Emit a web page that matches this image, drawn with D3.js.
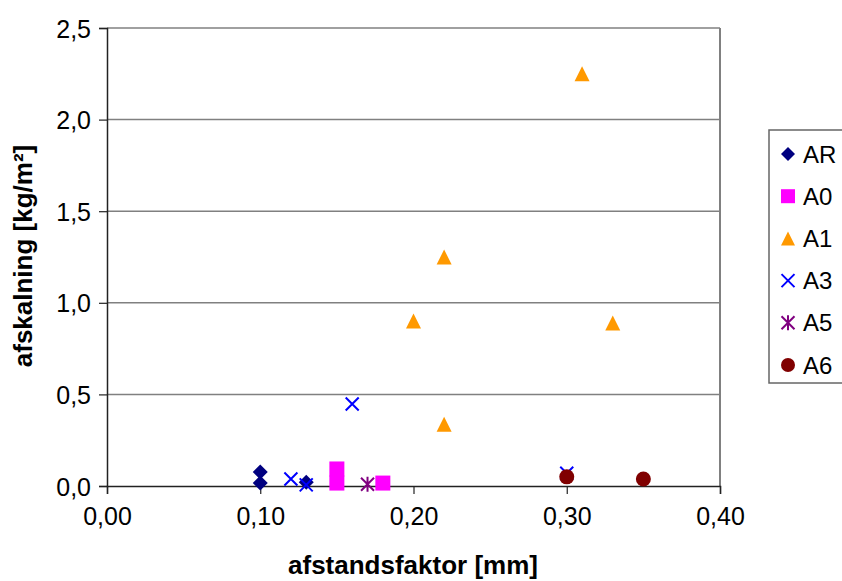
<!DOCTYPE html>
<html lang="da">

<head>
    <meta charset="UTF-8">
    <title>afskalning</title>
    <script src="https://d3js.org/d3.v7.min.js"></script>
    <style>
        body { margin: 0; background: #fff; }
        text { font-family: "Liberation Sans", Arial, sans-serif; }
    </style>
</head>

<body>

    <script>
        // data
        var seriesNames = ["AR", "A0", "A1", "A3", "A5", "A6"];
        var seriesColors = ["#000080", "#ff00ff", "#ff9900", "#0000ff", "#800080", "#800000"];
        var seriesShapes = ["diamond", "square", "triangle", "x", "star", "circle"];

        var arPoints = [[0.10, 0.076], [0.10, 0.016], [0.13, 0.02]];
        var a0Points = [[0.15, 0.093], [0.15, 0.016], [0.18, 0.016]];
        var a1Points = [[0.31, 2.25], [0.22, 1.25], [0.20, 0.90], [0.33, 0.89], [0.22, 0.337]];
        var a3Points = [[0.12, 0.038], [0.13, 0.006], [0.16, 0.448], [0.30, 0.07]];
        var a5Points = [[0.17, 0.01]];
        var a6Points = [[0.30, 0.05], [0.35, 0.038]];

        var xTicks = [0, 0.1, 0.2, 0.3, 0.4];
        var yTicks = [0, 0.5, 1.0, 1.5, 2.0, 2.5];

        var allPoints = [arPoints, a0Points, a1Points, a3Points, a5Points, a6Points];

        var width = 842;
        var height = 581;
        var plotL = 107, plotR = 720, plotT = 28, plotB = 486;

        var svg = d3.select("body")
            .append("svg")
            .attr("width", width)
            .attr("height", height);

        var x = d3.scaleLinear().domain([0, 0.4]).range([plotL, plotR]);
        var y = d3.scaleLinear().domain([0, 2.5]).range([plotB, plotT]);

        var fmt = function (d, n) { return d.toFixed(n).replace(".", ","); };

        // gridlines
        svg.append("g")
            .selectAll("line")
            .data(yTicks.slice(1))
            .enter()
            .append("line")
            .attr("x1", plotL).attr("x2", plotR)
            .attr("y1", function (d) { return y(d); })
            .attr("y2", function (d) { return y(d); })
            .attr("stroke", "#808080")
            .attr("stroke-width", 1.5);

        // right border
        svg.append("line")
            .attr("x1", plotR).attr("x2", plotR)
            .attr("y1", plotT).attr("y2", plotB)
            .attr("stroke", "#808080")
            .attr("stroke-width", 2);

        // y axis
        var yAxis = svg.append("g")
            .attr("transform", "translate(" + plotL + ",0)")
            .call(d3.axisLeft(y).tickValues(yTicks).tickSize(8).tickPadding(8)
                .tickFormat(function (d) { return fmt(d, 1); }));

        // x axis
        var xAxis = svg.append("g")
            .attr("transform", "translate(0," + plotB + ")")
            .call(d3.axisBottom(x).tickValues(xTicks).tickSize(8).tickPadding(8)
                .tickFormat(function (d) { return fmt(d, 2); }));

        [yAxis, xAxis].forEach(function (ax) {
            ax.select(".domain").attr("stroke", "#222").attr("stroke-width", 1.5);
            ax.selectAll(".tick line").attr("stroke", "#222").attr("stroke-width", 1.2);
            ax.selectAll("text")
                .attr("fill", "#000")
                .style("font-size", "25px")
                .style("font-family", "'Liberation Sans', Arial, sans-serif");
        });
        xAxis.selectAll("text").attr("dy", "0.9em");
        yAxis.selectAll("text").attr("dy", "0.36em");

        // axis titles
        svg.append("text")
            .attr("x", 413)
            .attr("y", 574)
            .attr("text-anchor", "middle")
            .style("font-size", "26px")
            .style("font-weight", "bold")
            .text("afstandsfaktor [mm]");

        svg.append("text")
            .attr("transform", "translate(32," + 256 + ") rotate(-90)")
            .attr("text-anchor", "middle")
            .style("font-size", "26px")
            .style("font-weight", "bold")
            .text("afskalning [kg/m²]");

        // marker paths
        function marker(shape, s) {
            var h = s / 2;
            if (shape === "diamond") return "M0," + (-h) + "L" + h + ",0L0," + h + "L" + (-h) + ",0Z";
            if (shape === "square") return "M" + (-h) + "," + (-h) + "h" + s + "v" + s + "h" + (-s) + "Z";
            if (shape === "triangle") return "M0," + (-h) + "L" + h + "," + h + "L" + (-h) + "," + h + "Z";
            if (shape === "circle") return d3.arc()({ innerRadius: 0, outerRadius: h, startAngle: 0, endAngle: 2 * Math.PI });
            if (shape === "x") return "M" + (-h) + "," + (-h) + "L" + h + "," + h + "M" + h + "," + (-h) + "L" + (-h) + "," + h;
            return "M" + (-h) + "," + (-h) + "L" + h + "," + h + "M" + h + "," + (-h) + "L" + (-h) + "," + h +
                "M0," + (-h - 1) + "L0," + (h + 1);
        }

        function isStroked(i) {
            return seriesShapes[i] === "x" || seriesShapes[i] === "star";
        }

        function styleMarker(sel, i) {
            var stroked = isStroked(i);
            sel.attr("fill", stroked ? "none" : seriesColors[i])
                .attr("stroke", stroked ? seriesColors[i] : "none")
                .attr("stroke-width", stroked ? 2 : 0);
        }

        // points
        allPoints.forEach(function (pts, i) {
            var g = svg.append("g");
            g.selectAll("path")
                .data(pts)
                .enter()
                .append("path")
                .attr("transform", function (d) {
                    return "translate(" + x(d[0]) + "," + y(d[1]) + ")";
                })
                .attr("d", marker(seriesShapes[i], isStroked(i) ? 13 : 15))
                .call(styleMarker, i);
        });

        // legend
        var legend = svg.append("g");
        legend.append("rect")
            .attr("x", 769).attr("y", 130)
            .attr("width", 90).attr("height", 253)
            .attr("fill", "#fff")
            .attr("stroke", "#666")
            .attr("stroke-width", 1.5);

        var item = legend.selectAll(".item")
            .data(seriesNames)
            .enter()
            .append("g")
            .attr("class", "item")
            .attr("transform", function (d, i) {
                return "translate(788," + (154 + i * 42.2) + ")";
            });

        item.append("path")
            .attr("d", function (d, i) {
                return marker(seriesShapes[i], isStroked(i) ? 13 : 14);
            })
            .each(function (d, i) { d3.select(this).call(styleMarker, i); });

        item.append("text")
            .attr("x", 15)
            .attr("dy", "0.36em")
            .style("font-size", "24px")
            .text(function (d) { return d; });
    </script>
</body>

</html>
